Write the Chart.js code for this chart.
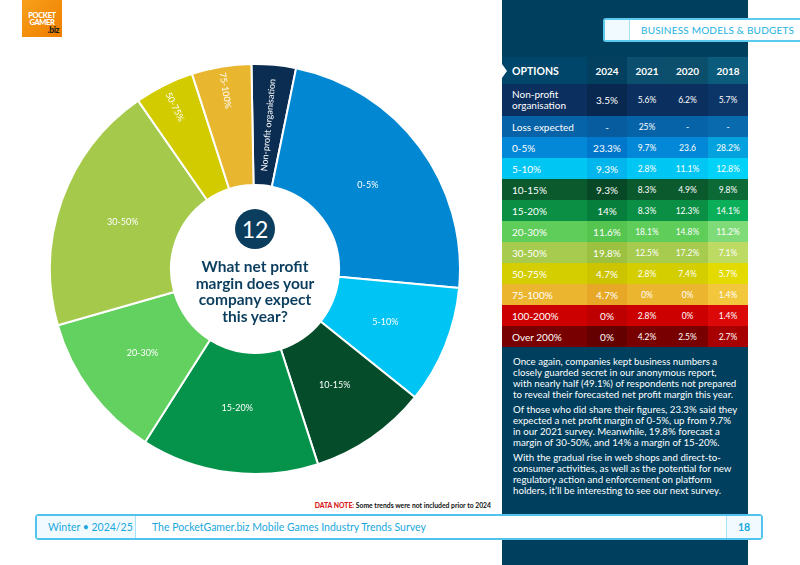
<!DOCTYPE html>
<html lang="en">
<head>
<meta charset="UTF-8">
<title>Net profit margin expectations</title>
<script src="https://cdn.jsdelivr.net/npm/chart.js"></script>
<style>
    body {
        margin: 0;
        width: 800px;
        height: 565px;
        position: relative;
        overflow: hidden;
        background: #fff;
        font-family: Lato, "Open Sans", sans-serif;
    }

    .logo {
        position: absolute;
        left: 22px;
        top: 0;
        width: 40px;
        height: 37px;
        background: linear-gradient(135deg, #f7a11a, #ef7d00);
        color: #fff;
        font-weight: 900;
        font-size: 7.5px;
        line-height: 7px;
        text-align: center;
        letter-spacing: -0.4px;
        padding-top: 12px;
        box-sizing: border-box;
    }

    .logo .biz {
        display: block;
        text-align: right;
        padding-right: 3px;
        font-size: 8.5px;
        line-height: 9px;
        color: #1a1a1a;
    }

    .panel {
        position: absolute;
        left: 502px;
        top: 0;
        width: 246px;
        height: 565px;
        background: #00405e;
    }

    .section-tag {
        position: absolute;
        left: 603px;
        top: 18px;
        width: 205px;
        height: 24px;
        box-sizing: border-box;
        border: 2px solid #5cc9ee;
        border-right: none;
        border-radius: 3px 0 0 3px;
        background: #fff;
    }

    .section-tag .nub {
        position: absolute;
        left: 0;
        top: 0;
        width: 24px;
        height: 20px;
        background: #f1fbff;
        border-right: 1px solid #a8e2f6;
    }

    .section-tag span {
        position: absolute;
        left: 36px;
        top: 4px;
        font-size: 10px;
        color: #22b2e2;
        letter-spacing: 0.2px;
    }

    #chart-wrap {
        position: absolute;
        left: 49px;
        top: 63px;
        width: 412px;
        height: 412px;
    }

    .badge {
        position: absolute;
        left: 235px;
        top: 209px;
        width: 40px;
        height: 40px;
        border-radius: 50%;
        background: #0b3d5e;
        color: #fff;
        font-size: 23px;
        line-height: 40px;
        text-align: center;
    }

    .question {
        position: absolute;
        left: 155px;
        top: 258px;
        width: 200px;
        text-align: center;
        color: #0b3d5e;
        font-weight: 700;
        font-size: 15.5px;
        line-height: 16.5px;
    }

    table.options {
        position: absolute;
        left: 502px;
        top: 57px;
        width: 246px;
        border-collapse: collapse;
        color: #fff;
        table-layout: fixed;
    }

    table.options td, table.options th {
        padding: 0;
        text-align: center;
        height: 21px;
        font-size: 8.5px;
        font-weight: 400;
    }

    table.options th {
        height: 27px;
        font-size: 10px;
        font-weight: 700;
    }

    table.options th:first-child,
    table.options td:first-child {
        text-align: left;
        padding-left: 10px;
        font-size: 10px;
    }

    table.options th:first-child {
        font-size: 10.5px;
        position: relative;
    }

    table.options th:first-child::before {
        content: "";
        position: absolute;
        left: 0;
        top: 7px;
        border-left: 5px solid #fff;
        border-top: 7px solid transparent;
        border-bottom: 7px solid transparent;
    }

    table.options td.y2024 {
        font-size: 10px;
    }

    table.options tr.tall td {
        height: 32px;
        line-height: 11px;
    }

    .copy {
        position: absolute;
        left: 513px;
        top: 356px;
        width: 234px;
        color: #fff;
        font-size: 9.7px;
        line-height: 11px;
    }

    .copy p {
        margin: 0 0 4px 0;
    }

    .data-note {
        position: absolute;
        right: 309px;
        top: 501px;
        font-size: 6.8px;
        font-weight: 700;
        color: #111;
    }

    .data-note b {
        color: #d71920;
    }

    .footer {
        position: absolute;
        left: 35px;
        top: 514px;
        width: 728px;
        height: 26px;
        box-sizing: border-box;
        border: 2px solid #4fc3ec;
        border-radius: 4px;
        background: #fff;
        color: #19a7dc;
        font-size: 10.5px;
    }

    .footer .season {
        position: absolute;
        left: 0;
        top: 0;
        width: 98px;
        height: 22px;
        background: #f1fbff;
        border-right: 1px solid #a8e2f6;
        line-height: 22px;
        text-indent: 11px;
    }

    .footer .title {
        position: absolute;
        left: 115px;
        top: 0;
        line-height: 22px;
    }

    .footer .page {
        position: absolute;
        right: 0;
        top: 0;
        width: 34px;
        height: 22px;
        background: #f1fbff;
        border-left: 1px solid #a8e2f6;
        line-height: 22px;
        text-align: center;
        font-weight: 700;
    }
</style>
</head>
<body>
    <div class="logo">POCKET<br>GAMER<span class="biz">.biz</span></div>
    <div class="panel"></div>
    <div class="section-tag"><div class="nub"></div><span>BUSINESS MODELS &amp; BUDGETS</span></div>

    <div id="chart-wrap"><canvas id="marginChart"></canvas></div>
    <div class="badge">12</div>
    <div class="question">What net profit<br>margin does your<br>company expect<br>this year?</div>

    <table class="options" id="options-table">
        <colgroup>
            <col style="width:85px"><col style="width:40px"><col style="width:40px"><col style="width:41px"><col style="width:40px">
        </colgroup>
        <thead id="options-head"></thead>
        <tbody id="options-body"></tbody>
    </table>

    <div class="copy">
        <p>Once again, companies kept business numbers a<br>closely guarded secret in our anonymous report,<br>with nearly half (49.1%) of respondents not prepared<br>to reveal their forecasted net profit margin this year.</p>
        <p>Of those who did share their figures, 23.3% said they<br>expected a net profit margin of 0-5%, up from 9.7%<br>in our 2021 survey. Meanwhile, 19.8% forecast a<br>margin of 30-50%, and 14% a margin of 15-20%.</p>
        <p>With the gradual rise in web shops and direct-to-<br>consumer activities, as well as the potential for new<br>regulatory action and enforcement on platform<br>holders, it’ll be interesting to see our next survey.</p>
    </div>

    <div class="data-note"><b>DATA NOTE:</b> Some trends were not included prior to 2024</div>

    <div class="footer">
        <div class="season">Winter • 2024/25</div>
        <div class="title">The PocketGamer.biz Mobile Games Industry Trends Survey</div>
        <div class="page">18</div>
    </div>

    <script>
        // options (rows of the table, same order as the doughnut where present)
        const options = ['Non-profit organisation', 'Loss expected', '0-5%', '5-10%', '10-15%', '15-20%',
            '20-30%', '30-50%', '50-75%', '75-100%', '100-200%', 'Over 200%'];
        const years = ['2024', '2021', '2020', '2018'];

        // 2024 share, null = not asked
        const share2024 = [3.5, null, 23.3, 9.3, 9.3, 14, 11.6, 19.8, 4.7, 4.7, 0, 0];
        // older surveys, as printed
        const share2021 = ['5.6%', '25%', '9.7%', '2.8%', '8.3%', '8.3%', '18.1%', '12.5%', '2.8%', '0%', '2.8%', '4.2%'];
        const share2020 = ['6.2%', '-', '23.6', '11.1%', '4.9%', '12.3%', '14.8%', '17.2%', '7.4%', '0%', '0%', '2.5%'];
        const share2018 = ['5.7%', '-', '28.2%', '12.8%', '9.8%', '14.1%', '11.2%', '7.1%', '5.7%', '1.4%', '1.4%', '2.7%'];

        // row colours: [label/base, 2024 column, 2018 column]
        const rowColors = [
            ['#0b3060', '#08284f', '#0c3668'],
            ['#0663a7', '#065c9e', '#0a6aae'],
            ['#0288d6', '#0077cb', '#03a2de'],
            ['#00c6f4', '#00b6ec', '#00d2f8'],
            ['#0b5a2e', '#074826', '#0c6a36'],
            ['#0a8f45', '#077f3c', '#0caf59'],
            ['#5ecd5a', '#55c550', '#7fdb78'],
            ['#a6cb4e', '#9cc141', '#bdda62'],
            ['#d4cd00', '#cdc400', '#e3db00'],
            ['#ecb52f', '#e7a727', '#f2c73c'],
            ['#cc0000', '#bf0000', '#dc0909'],
            ['#790000', '#640000', '#a70000']
        ];
        const headColors = ['#00456a', '#033f5e', '#0b4e6e', '#0c4f6d', '#0b5c7c'];

        // slice colours of the doughnut
        const sliceColors = {
            'Non-profit organisation': '#0b2d52',
            '0-5%': '#0288d2',
            '5-10%': '#00c4f4',
            '10-15%': '#054d2a',
            '15-20%': '#05924a',
            '20-30%': '#62d160',
            '30-50%': '#a5c94b',
            '50-75%': '#d2cb00',
            '75-100%': '#e9b630'
        };

        function fmt(v) {
            return v === null ? '-' : v + '%';
        }

        // table
        const head = document.getElementById('options-head');
        let h = '<tr><th style="background:' + headColors[0] + '">OPTIONS</th>';
        years.forEach((y, i) => { h += '<th style="background:' + headColors[i + 1] + '">' + y + '</th>'; });
        head.innerHTML = h + '</tr>';

        const body = document.getElementById('options-body');
        options.forEach((opt, i) => {
            const c = rowColors[i];
            const label = i === 0 ? 'Non-profit<br>organisation' : opt;
            body.innerHTML += '<tr' + (i === 0 ? ' class="tall"' : '') + '>' +
                '<td style="background:' + c[0] + '">' + label + '</td>' +
                '<td class="y2024" style="background:' + c[1] + '">' + fmt(share2024[i]) + '</td>' +
                '<td style="background:' + c[0] + '">' + share2021[i] + '</td>' +
                '<td style="background:' + c[0] + '">' + share2020[i] + '</td>' +
                '<td style="background:' + c[2] + '">' + share2018[i] + '</td></tr>';
        });

        // doughnut uses the 2024 answers that got votes
        const pieLabels = [];
        const pieValues = [];
        options.forEach((opt, i) => {
            if (share2024[i]) {
                pieLabels.push(opt);
                pieValues.push(share2024[i]);
            }
        });

        // labels inside the slices, small slices get radial text
        const sliceLabels = {
            id: 'sliceLabels',
            afterDatasetsDraw(chart) {
                const ctx = chart.ctx;
                const meta = chart.getDatasetMeta(0);
                ctx.save();
                ctx.fillStyle = '#fff';
                ctx.font = '9px Lato, sans-serif';
                ctx.textAlign = 'center';
                ctx.textBaseline = 'middle';
                meta.data.forEach((arc, i) => {
                    const p = arc.getProps(['x', 'y', 'startAngle', 'endAngle', 'innerRadius', 'outerRadius']);
                    const mid = (p.startAngle + p.endAngle) / 2;
                    const span = p.endAngle - p.startAngle;
                    const text = pieLabels[i];
                    const rotated = span < 0.35;
                    let r = (p.innerRadius + p.outerRadius) / 2 - 4;
                    if (rotated) {
                        r = text.length > 10 ? (p.innerRadius + p.outerRadius) / 2 : p.innerRadius + 0.8 * (p.outerRadius - p.innerRadius);
                    }
                    const x = p.x + Math.cos(mid) * r;
                    const y = p.y + Math.sin(mid) * r;
                    ctx.save();
                    ctx.translate(x, y);
                    if (rotated) {
                        const a = ((mid % (2 * Math.PI)) + 2 * Math.PI) % (2 * Math.PI);
                        ctx.rotate(a > Math.PI / 2 && a < 3 * Math.PI / 2 ? a + Math.PI : a);
                    }
                    ctx.fillText(text, 0, 0);
                    ctx.restore();
                });
                ctx.restore();
            }
        };

        new Chart(document.getElementById('marginChart'), {
            type: 'doughnut',
            data: {
                labels: pieLabels,
                datasets: [{
                    data: pieValues,
                    backgroundColor: pieLabels.map(l => sliceColors[l]),
                    borderColor: '#fff',
                    borderWidth: 2
                }]
            },
            options: {
                responsive: true,
                maintainAspectRatio: false,
                animation: false,
                rotation: -1,
                cutout: '41%',
                layout: { padding: 0 },
                plugins: {
                    legend: { display: false },
                    tooltip: { enabled: false }
                }
            },
            plugins: [sliceLabels]
        });
    </script>
</body>
</html>
